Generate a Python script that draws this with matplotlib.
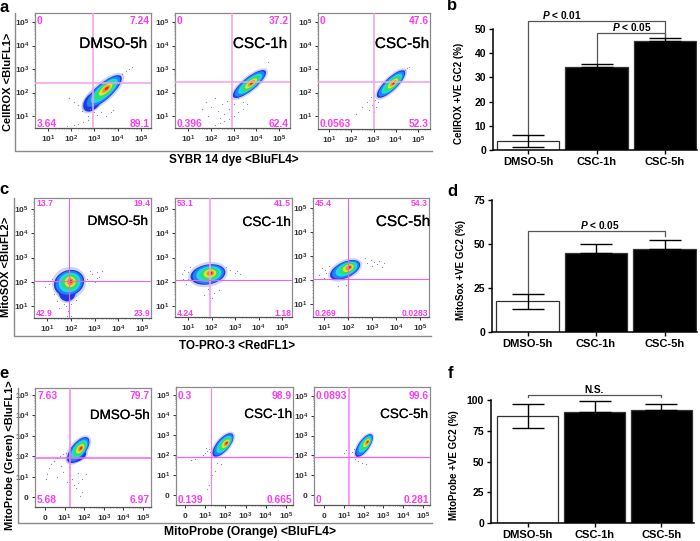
import numpy as np
import matplotlib
matplotlib.use('Agg')
import matplotlib.pyplot as plt
import matplotlib.patheffects as pe
from matplotlib.patches import Ellipse
from matplotlib.lines import Line2D

plt.rcParams['font.family'] = ['Liberation Sans', 'DejaVu Sans']
plt.rcParams['mathtext.fontset'] = 'custom'
plt.rcParams['mathtext.rm'] = 'Liberation Sans'
plt.rcParams['mathtext.bf'] = 'Liberation Sans:bold'
plt.rcParams['mathtext.bfit'] = 'Liberation Sans:italic:bold'

W, H = 700, 541

# bar values
groups = ['DMSO-5h', 'CSC-1h', 'CSC-5h']
cellrox_vals = [3.8, 34.4, 45.0]
cellrox_low = [2.6, 0, 0]
cellrox_high = [2.6, 1.3, 1.3]
mitosox_vals = [17.5, 44.8, 47.3]
mitosox_low = [4.2, 0, 0]
mitosox_high = [4.2, 5.3, 4.7]
mitoprobe_vals = [87, 90, 92]
mitoprobe_low = [10, 0, 0]
mitoprobe_high = [10, 9, 4.5]

# quadrant percentages: upper left, upper right, lower left, lower right
quad_a1 = ['0', '7.24', '3.64', '89.1']
quad_a2 = ['0', '37.2', '0.396', '62.4']
quad_a3 = ['0', '47.6', '0.0563', '52.3']
quad_c1 = ['13.7', '19.4', '42.9', '23.9']
quad_c2 = ['53.1', '41.5', '4.24', '1.18']
quad_c3 = ['45.4', '54.3', '0.269', '0.0283']
quad_e1 = ['7.63', '79.7', '5.68', '6.97']
quad_e2 = ['0.3', '98.9', '0.139', '0.665']
quad_e3 = ['0.0893', '99.6', '0', '0.281']

# cell clouds, in decades: centre x, centre y, long axis, short axis, angle, hottest x, hottest y
cloud_a1 = [3.37, 2.02, 2.05, 0.68, 41, 3.54, 2.19]
cloud_a2 = [3.70, 2.36, 1.80, 0.56, 38, 3.81, 2.40]
cloud_a3 = [3.79, 2.36, 1.65, 0.54, 42, 3.92, 2.40]
cloud_c1 = [1.93, 1.95, 1.30, 1.05, 20, 2.00, 2.02]
cloud_c2 = [1.85, 2.30, 1.50, 0.82, 10, 1.98, 2.36]
cloud_c3 = [1.88, 2.42, 1.35, 0.66, 25, 2.08, 2.54]
cloud_e1 = [1.70, 2.30, 1.55, 0.72, 50, 1.85, 2.40]
cloud_e2 = [1.88, 2.50, 1.45, 0.62, 50, 2.08, 2.60]
cloud_e3 = [2.02, 2.50, 1.35, 0.55, 55, 2.22, 2.70]

# blue shoulders on the low side of some clouds
lobe_a1 = [2.90, 1.60, 0.95, 0.62, 50]
lobe_e1 = [1.62, 1.98, 1.00, 0.50, 20]
lobe_c1 = [1.85, 1.55, 0.70, 0.72, 0]

# stray events
a1_x = [1.9, 2.1, 2.3, 2.45, 2.6, 2.7, 2.8, 2.9, 3.0, 1.8, 2.1, 2.3, 2.5, 2.7, 2.9, 3.1, 3.3, 4.2, 4.35, 4.5, 4.6, 3.5, 3.7, 3.8]
a1_y = [1.75, 1.6, 1.45, 1.2, 1.5, 1.0, 1.3, 0.9, 1.15, 0.57, 0.6, 0.66, 0.74, 0.82, 0.92, 1.05, 1.15, 2.8, 2.9, 3.0, 3.1, 1.0, 1.15, 1.25]
a2_x = [1.6, 1.8, 1.9, 2.0, 2.2, 2.3, 2.4, 2.5, 2.6, 2.7, 2.8, 2.9, 3.0, 2.2, 2.4, 2.6, 2.8, 3.0, 3.2, 3.4, 3.6, 3.2, 3.4, 4.5]
a2_y = [1.3, 1.6, 1.0, 1.4, 1.75, 1.2, 0.9, 1.5, 1.1, 1.65, 1.3, 1.0, 1.5, 0.62, 0.7, 0.78, 0.88, 1.0, 1.15, 1.3, 1.5, 1.75, 1.6, 3.3]
a3_x = [2.2, 2.5, 2.7, 2.8, 2.9, 2.95, 3.0, 3.05, 3.1, 3.15, 3.2, 4.4, 4.5, 4.6]
a3_y = [1.1, 1.4, 1.6, 1.25, 1.8, 1.45, 1.15, 1.7, 1.4, 1.9, 1.6, 2.95, 3.05, 3.1]
c1_x = [0.9, 1.1, 1.3, 1.2, 1.4, 1.7, 1.8, 1.9, 2.0, 1.85, 2.0, 1.5, 2.7, 2.9, 3.0, 3.1, 3.2, 3.3, 3.1, 2.8, 1.6, 2.1, 2.0, 1.95, 2.2]
c1_y = [1.8, 1.9, 1.5, 2.1, 1.2, 1.1, 1.0, 0.8, 1.1, 0.6, 0.45, 0.9, 2.1, 2.3, 2.0, 2.4, 2.2, 2.45, 2.15, 2.45, 0.45, 0.4, 0.6, 1.3, 1.25]
c2_x = [0.75, 0.8, 0.85, 0.9, 1.0, 1.0, 1.1, 1.7, 1.9, 2.0, 2.1, 2.6, 2.8, 3.0, 3.1, 3.2, 1.85, 2.3]
c2_y = [2.3, 2.1, 2.5, 1.9, 2.4, 2.1, 2.6, 1.45, 1.5, 1.35, 1.55, 2.6, 2.5, 2.35, 2.45, 2.3, 1.7, 1.65]
c3_x = [0.8, 0.9, 1.0, 1.05, 1.1, 1.2, 1.3, 2.7, 2.8, 2.95, 3.0, 3.1, 3.2, 3.3, 3.4, 3.5, 1.6, 1.9]
c3_y = [2.2, 2.5, 2.1, 2.4, 2.3, 2.6, 2.2, 2.9, 2.7, 2.85, 2.6, 2.75, 2.65, 2.8, 2.55, 2.7, 1.75, 1.8]
e1_x = [0.05, 0.1, 0.2, 0.3, 0.45, 0.6, 0.75, 0.9, 1.05, 1.2, 0.6, 0.9, 1.1, 1.3, 1.5, 1.7, 1.9, 1.8, 1.4, 1.7, 1.2, 0.8, 2.1, 1.9, 1.6]
e1_y = [0.9, 1.15, 1.4, 1.6, 1.78, 1.92, 2.02, 2.1, 2.15, 2.2, 1.0, 1.25, 0.75, 1.1, 0.6, 1.2, 0.25, 0.05, 0.9, 0.7, 1.45, 1.5, 1.15, 0.9, 0.45]
e2_x = [0.3, 0.5, 0.7, 0.9, 1.0, 1.1, 1.2, 1.05, 1.25, 1.5, 1.35, 1.3, 1.2, 1.1, 1.6, 1.8]
e2_y = [1.75, 1.8, 1.9, 2.0, 2.1, 2.2, 2.3, 2.35, 2.15, 1.2, 1.0, 0.8, 0.5, 0.3, 1.6, 1.55]
e3_x = [1.0, 1.1, 1.25, 1.4, 1.5, 1.55, 1.7, 1.9, 2.1]
e3_y = [2.1, 2.25, 2.4, 2.15, 2.3, 1.8, 1.7, 1.6, 1.55]

heat_colors = ['#2038e0', '#1e84f4', '#20d8e8', '#28e070', '#d8e830', '#f89020', '#e82020']
heat_scales = [1.0, 0.9, 0.72, 0.55, 0.36, 0.22, 0.1]
decades = np.log10(np.arange(2, 10))

fig = plt.figure(figsize=(W / 100, H / 100), dpi=100)


def px_axes(left, top, right, bottom):
    return fig.add_axes([left / W, 1 - bottom / H, (right - left) / W, (bottom - top) / H])


def px_text(x, y, s, **kw):
    kw.setdefault('ha', 'center')
    kw.setdefault('va', 'center')
    return fig.text(x / W, 1 - y / H, s, **kw)


def px_frame(left, top, right, bottom):
    line = Line2D([left / W, left / W, right / W], [1 - top / H, 1 - bottom / H, 1 - bottom / H],
                  color='#8a8a8a', lw=1.0, transform=fig.transFigure)
    fig.add_artist(line)


def decade_label(n):
    if n == 0:
        return r'$\mathbf{0}$'
    return r'$\mathbf{10^{%d}}$' % n


def draw_cloud(ax, cloud, lobe=None):
    cx, cy, major, minor, angle, hx, hy = cloud
    ax.add_patch(Ellipse((cx, cy), major * 1.12, minor * 1.25, angle=angle, fc='#8a96ec', ec='none', alpha=0.4, zorder=2))
    if lobe is not None:
        ax.add_patch(Ellipse(lobe[:2], lobe[2] * 1.2, lobe[3] * 1.2, angle=lobe[4], fc='#8a96ec', ec='none', alpha=0.4, zorder=2))
        ax.add_patch(Ellipse(lobe[:2], lobe[2], lobe[3], angle=lobe[4], fc=heat_colors[0], ec='none', zorder=2))
    for scale, color in zip(heat_scales, heat_colors):
        t = 1 - scale
        ax.add_patch(Ellipse((cx + (hx - cx) * t, cy + (hy - cy) * t), major * scale, minor * scale ** 0.85,
                             angle=angle, fc=color, ec='none', zorder=3))


def flow_plot(box, xt, yt, gate, cloud, dots_x, dots_y, quad, name, name_x, name_y, name_size, quad_size,
              quad_ys, lobe=None, with_zero=False, vcolor='#f2a0e8', hcolor='#f2a0e8', vw=1.1, hw=1.1):
    left, top, right, bottom = box
    ax = px_axes(left, top, right, bottom)
    first = 0 if with_zero else 1
    xs = (xt[1] - xt[0]) / (5 - first)
    ys = (yt[0] - yt[1]) / (5 - first)
    ax.set_xlim(first - (xt[0] - left) / xs, first + (right - xt[0]) / xs)
    ax.set_ylim(first - (bottom - yt[0]) / ys, first + (yt[0] - top) / ys)
    draw_cloud(ax, cloud, lobe)
    ax.scatter(dots_x, dots_y, s=0.7, color='#6f7fd8', linewidths=0, zorder=2)
    ax.axvline(first + (gate[0] - xt[0]) / xs, color=vcolor, lw=vw, zorder=4)
    ax.axhline(first + (yt[0] - gate[1]) / ys, color=hcolor, lw=hw, zorder=4)
    ticks = list(range(first, 6))
    labels = [decade_label(n) for n in ticks]
    ax.set_xticks(ticks, labels)
    ax.set_yticks(ticks, labels)
    minor = [n + d for n in range(1, 6) for d in decades if n + d < 5.4]
    ax.set_xticks(minor, minor=True)
    ax.set_yticks(minor, minor=True)
    ax.tick_params(which='major', length=2, width=0.7, labelsize=6, pad=2, colors='#333333')
    ax.tick_params(which='minor', length=1, width=0.4, colors='#555555')
    for side in ['top', 'right', 'left']:
        ax.spines[side].set_color('#8a8a8a')
        ax.spines[side].set_linewidth(0.9)
    ax.spines['bottom'].set_color('#555555')
    ax.spines['bottom'].set_linewidth(0.9)
    magenta = '#fb3cf0'
    qkw = dict(color=magenta, fontsize=quad_size, fontweight='bold', zorder=6)
    px_text(left + 2, quad_ys[0], quad[0], ha='left', **qkw)
    px_text(right - 1, quad_ys[0], quad[1], ha='right', **qkw)
    px_text(left + 2, quad_ys[1], quad[2], ha='left', **qkw)
    px_text(right - 1, quad_ys[1], quad[3], ha='right', **qkw)
    t = px_text(name_x, name_y, name, ha='right', fontsize=name_size, color='black')
    t.set_path_effects([pe.withStroke(linewidth=0.12, foreground='black')])
    return ax


def bar_plot(left, top, right, bottom, center, spacing, ymax, yticks, vals, low, high, ylabel, label_x):
    ax = px_axes(left, top, right, bottom)
    ax.set_xlim((left - center) / spacing, (right - center) / spacing)
    ax.set_ylim(0, ymax)
    x = np.arange(len(vals))
    ax.bar(x, vals, width=0.91, color=['white', 'black', 'black'], edgecolor='#333333', linewidth=0.9, zorder=2)
    ax.errorbar(x, vals, yerr=[low, high], fmt='none', ecolor='black', elinewidth=1.0, capsize=11.5, capthick=1.0, zorder=3)
    ax.spines['top'].set_visible(False)
    ax.spines['right'].set_visible(False)
    ax.spines['left'].set_linewidth(1.1)
    ax.spines['bottom'].set_linewidth(1.1)
    ax.set_xticks(x, groups, fontweight='bold', fontsize=8)
    ax.set_yticks(yticks, [str(t) for t in yticks], fontweight='bold', fontsize=7.5)
    ax.tick_params(length=3, width=1.0, pad=2)
    px_text(label_x, (top + bottom) / 2 + 4, ylabel, rotation=90, fontsize=7, fontweight='bold')
    return ax


def bracket(ax, xs, ys, label, label_x):
    ax.plot(xs, ys, color='#555555', lw=0.9, clip_on=False, zorder=1)
    ax.text(label_x, max(ys), label, ha='center', va='bottom', fontsize=7.3, fontweight='bold', clip_on=False)


# row a
a_quad_y = (21, 124)
flow_plot((35, 13, 151, 128), (48, 141), (116, 22), (93, 83), cloud_a1, a1_x, a1_y, quad_a1, 'DMSO-5h', 147, 44, 11, 7.4, a_quad_y, lobe=lobe_a1)
flow_plot((175, 13, 290, 128), (188, 279), (116, 22), (232, 82), cloud_a2, a2_x, a2_y, quad_a2, 'CSC-1h', 287, 44, 11, 7.4, a_quad_y)
flow_plot((318, 13, 430, 129), (329, 418), (116, 22), (374, 82), cloud_a3, a3_x, a3_y, quad_a3, 'CSC-5h', 429, 44, 11, 7.4, a_quad_y)
px_frame(15, 13, 432, 151)
px_text(234, 160, 'SYBR 14 dye <BluFL4>', fontsize=8.5, fontweight='bold')
px_text(8, 82, 'CellROX <BluFL1>', rotation=90, fontsize=8, fontweight='bold')

# row c
c_quad_y = (204, 314)
flow_plot((34, 198, 151, 318), (47, 142), (306, 209), (69, 281), cloud_c1, c1_x, c1_y, quad_c1, 'DMSO-5h', 148, 221, 9.8, 6.2, c_quad_y, lobe=lobe_c1, vcolor='#f060e8', hcolor='#f060e8', vw=0.8, hw=0.8)
flow_plot((175, 198, 292, 317), (188, 282), (306, 209), (210, 280), cloud_c2, c2_x, c2_y, quad_c2, 'CSC-1h', 291, 222, 9.8, 6.2, c_quad_y, vcolor='#f4a0ec', hcolor='#f060e8', vw=1.2, hw=0.8)
flow_plot((313, 198, 429, 317), (324, 420), (304, 208), (348, 279), cloud_c3, c3_x, c3_y, quad_c3, 'CSC-5h', 430, 222, 11, 6.2, c_quad_y, vcolor='#f060e8', hcolor='#f060e8', vw=0.8, hw=0.8)
px_frame(14, 198, 431, 336)
px_text(237, 346, 'TO-PRO-3 <RedFL1>', fontsize=8.5, fontweight='bold')
px_text(6, 267, 'MitoSOX <BluFL2>', rotation=90, fontsize=8, fontweight='bold')

# row e
e_quad_y = (396, 500)
flow_plot((35, 388, 151, 507), (45, 143), (497, 395), (70, 458), cloud_e1, e1_x, e1_y, quad_e1, 'DMSO-5h', 150, 416, 9.7, 7.4, e_quad_y, lobe=lobe_e1, with_zero=True, vcolor='#fb80f0', hcolor='#fb60f0')
flow_plot((176, 387, 293, 505), (185, 286), (495, 395), (211, 457), cloud_e2, e2_x, e2_y, quad_e2, 'CSC-1h', 292, 415, 9.7, 7.4, e_quad_y, with_zero=True, vcolor='#fb80f0', hcolor='#fb60f0', vw=0.8, hw=0.9)
flow_plot((314, 387, 430, 505), (324, 423), (495, 396), (349, 457), cloud_e3, e3_x, e3_y, quad_e3, 'CSC-5h', 428, 415, 9.7, 7.4, e_quad_y, with_zero=True, vcolor='#fb90f0', hcolor='#fb60f0', vw=1.3, hw=0.9)
px_frame(18, 388, 432, 523)
px_text(250, 532, 'MitoProbe (Orange) <BluFL4>', fontsize=8.7, fontweight='bold')
px_text(10, 455, 'MitoProbe (Green) <BluFL1>', rotation=90, fontsize=7.9, fontweight='bold')

# bar panels
ax_b = bar_plot(493, 29, 697, 150, 528, 68.5, 50, [0, 10, 20, 30, 40, 50], cellrox_vals, cellrox_low, cellrox_high, 'CellROX +VE GC2 (%)', 459)
bracket(ax_b, [0, 0, 2, 2], [6.6, 53.3, 53.3, 46.3], r'$\mathbfit{P}$ < 0.01', 0.5)
bracket(ax_b, [1, 1, 2, 2], [35.8, 48.3, 48.3, 46.3], r'$\mathbfit{P}$ < 0.05', 1.52)

ax_d = bar_plot(492, 200, 697, 332, 527.5, 68.5, 75, [0, 25, 50, 75], mitosox_vals, mitosox_low, mitosox_high, 'MitoSox +VE GC2 (%)', 461)
bracket(ax_d, [0, 0, 2, 2], [21.7, 57.4, 57.4, 54.5], r'$\mathbfit{P}$ < 0.05', 1.05)

ax_f = bar_plot(491, 400, 694, 523, 527.5, 67, 100, [0, 25, 50, 75, 100], mitoprobe_vals, mitoprobe_low, mitoprobe_high, 'MitoProbe +VE GC2 (%)', 454)
bracket(ax_f, [0, 0, 2, 2], [102.5, 104, 104, 102.5], 'N.S.', 1)

# panel letters
letters = ['a', 'b', 'c', 'd', 'e', 'f']
letter_x = [4, 452, 4, 452, 4, 451]
letter_y = [7, 6, 190, 191, 373, 373]
for s, lx, ly in zip(letters, letter_x, letter_y):
    px_text(lx, ly, s, fontsize=12, fontweight='bold')

fig.savefig('out.png', dpi=100)
